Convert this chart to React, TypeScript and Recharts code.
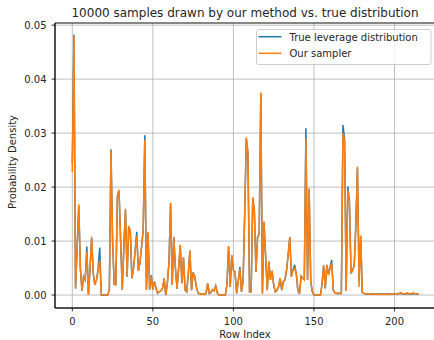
import React from 'react';
import { LineChart, Line, XAxis, YAxis, CartesianGrid, Legend, ReferenceArea } from 'recharts';

// probability per row (row index = array position)
const ourSampler = [
  0.0228, 0.0480, 0.0012, 0.0090, 0.0168, 0.0050, 0.0008, 0.0034, 0.0028, 0.0080,
  0.0000, 0.0050, 0.0108, 0.0040, 0.0019, 0.0028, 0.0045, 0.0065, 0.0000, 0.0000,
  0.0000, 0.0000, 0.0000, 0.0010, 0.0268, 0.0100, 0.0020, 0.0019, 0.0185, 0.0195,
  0.0100, 0.0010, 0.0090, 0.0160, 0.0034, 0.0128, 0.0119, 0.0031, 0.0050, 0.0080,
  0.0110, 0.0045, 0.0060, 0.0090, 0.0120, 0.0287, 0.0010, 0.0117, 0.0010, 0.0035,
  0.0010, 0.0025, 0.0012, 0.0003, 0.0006, 0.0008, 0.0012, 0.0031, 0.0000, 0.0022,
  0.0060, 0.0171, 0.0019, 0.0108, 0.0050, 0.0012, 0.0050, 0.0093, 0.0022, 0.0070,
  0.0009, 0.0006, 0.0040, 0.0083, 0.0009, 0.0042, 0.0034, 0.0015, 0.0004, 0.0002,
  0.0001, 0.0002, 0.0001, 0.0003, 0.0022, 0.0003, 0.0005, 0.0010, 0.0008, 0.0017,
  0.0004, 0.0000, 0.0000, 0.0000, 0.0000, 0.0000, 0.0020, 0.0091, 0.0015, 0.0074,
  0.0046, 0.0043, 0.0003, 0.0025, 0.0048, 0.0006, 0.0025, 0.0150, 0.0292, 0.0265,
  0.0006, 0.0006, 0.0181, 0.0157, 0.0043, 0.0108, 0.0114, 0.0375, 0.0003, 0.0136,
  0.0071, 0.0009, 0.0062, 0.0028, 0.0045, 0.0019, 0.0006, 0.0009, 0.0015, 0.0031,
  0.0009, 0.0025, 0.0028, 0.0046, 0.0075, 0.0108, 0.0034, 0.0046, 0.0050, 0.0040,
  0.0009, 0.0002, 0.0034, 0.0031, 0.0028, 0.0290, 0.0028, 0.0198, 0.0025, 0.0006,
  0.0000, 0.0000, 0.0000, 0.0000, 0.0000, 0.0020, 0.0055, 0.0012, 0.0056, 0.0037,
  0.0050, 0.0059, 0.0009, 0.0004, 0.0003, 0.0004, 0.0003, 0.0003, 0.0300, 0.0287,
  0.0008, 0.0194, 0.0172, 0.0040, 0.0046, 0.0055, 0.0130, 0.0238, 0.0015, 0.0110,
  0.0005, 0.0003, 0.0002, 0.0003, 0.0002, 0.0002, 0.0001, 0.0002, 0.0002, 0.0001,
  0.0002, 0.0001, 0.0002, 0.0001, 0.0002, 0.0001, 0.0001, 0.0002, 0.0001, 0.0002,
  0.0001, 0.0002, 0.0003, 0.0003, 0.0005, 0.0002, 0.0002, 0.0003, 0.0004, 0.0002,
  0.0003, 0.0003, 0.0004, 0.0002, 0.0003, 0.0002,
];

const trueLeverage = [
  0.0244, 0.0482, 0.0012, 0.0088, 0.0165, 0.0050, 0.0008, 0.0034, 0.0028, 0.0090,
  0.0000, 0.0050, 0.0105, 0.0040, 0.0019, 0.0028, 0.0048, 0.0088, 0.0000, 0.0000,
  0.0000, 0.0000, 0.0000, 0.0010, 0.0270, 0.0100, 0.0020, 0.0019, 0.0183, 0.0192,
  0.0100, 0.0010, 0.0090, 0.0158, 0.0034, 0.0126, 0.0118, 0.0031, 0.0050, 0.0082,
  0.0117, 0.0045, 0.0060, 0.0090, 0.0121, 0.0296, 0.0010, 0.0115, 0.0010, 0.0037,
  0.0010, 0.0025, 0.0012, 0.0003, 0.0006, 0.0008, 0.0012, 0.0031, 0.0000, 0.0022,
  0.0060, 0.0170, 0.0019, 0.0107, 0.0050, 0.0012, 0.0050, 0.0092, 0.0022, 0.0070,
  0.0009, 0.0006, 0.0040, 0.0082, 0.0009, 0.0042, 0.0034, 0.0015, 0.0004, 0.0002,
  0.0002, 0.0002, 0.0002, 0.0003, 0.0021, 0.0003, 0.0005, 0.0010, 0.0008, 0.0017,
  0.0004, 0.0000, 0.0000, 0.0000, 0.0000, 0.0000, 0.0020, 0.0090, 0.0015, 0.0073,
  0.0046, 0.0043, 0.0003, 0.0026, 0.0052, 0.0006, 0.0025, 0.0150, 0.0290, 0.0263,
  0.0006, 0.0006, 0.0180, 0.0156, 0.0043, 0.0107, 0.0113, 0.0373, 0.0003, 0.0135,
  0.0071, 0.0009, 0.0062, 0.0028, 0.0045, 0.0019, 0.0006, 0.0009, 0.0015, 0.0031,
  0.0009, 0.0025, 0.0028, 0.0046, 0.0075, 0.0107, 0.0034, 0.0047, 0.0056, 0.0040,
  0.0009, 0.0002, 0.0035, 0.0031, 0.0029, 0.0309, 0.0028, 0.0196, 0.0025, 0.0006,
  0.0000, 0.0000, 0.0000, 0.0000, 0.0000, 0.0020, 0.0055, 0.0012, 0.0056, 0.0038,
  0.0052, 0.0065, 0.0009, 0.0004, 0.0003, 0.0003, 0.0003, 0.0003, 0.0315, 0.0288,
  0.0008, 0.0201, 0.0174, 0.0040, 0.0046, 0.0055, 0.0130, 0.0236, 0.0025, 0.0110,
  0.0005, 0.0003, 0.0002, 0.0002, 0.0002, 0.0002, 0.0002, 0.0002, 0.0002, 0.0002,
  0.0002, 0.0002, 0.0002, 0.0002, 0.0002, 0.0002, 0.0002, 0.0002, 0.0002, 0.0002,
  0.0002, 0.0002, 0.0002, 0.0003, 0.0003, 0.0002, 0.0002, 0.0002, 0.0003, 0.0002,
  0.0002, 0.0002, 0.0003, 0.0002, 0.0002, 0.0002,
];

const xTicks = [0, 50, 100, 150, 200];
const yTicks = [0, 0.01, 0.02, 0.03, 0.04, 0.05];

const data = trueLeverage.map((v, i) => ({ row: i, truth: v, ours: ourSampler[i] }));

const BLUE = '#1f77b4';
const ORANGE = '#ff7f0e';
const FONT = 'DejaVu Sans, sans-serif';

const xMin = -10.75;
const xMax = 225.75;
const yMin = -0.0024;
const yMax = 0.0504;

const LegendBox = () => (
  <svg width={176} height={37} style={{ display: 'block' }}>
    <rect x={0.5} y={0.5} width={174.5} height={35} rx={2} fill="rgba(255,255,255,0.8)" stroke="#cccccc" />
    <line x1={2.5} y1={7.7} x2={25.5} y2={7.7} stroke={BLUE} strokeWidth={1.5} />
    <line x1={2.5} y1={24.3} x2={25.5} y2={24.3} stroke={ORANGE} strokeWidth={1.5} />
    <text x={33.5} y={11.8} fontSize={10} fontFamily={FONT} fill="#262626">True leverage distribution</text>
    <text x={33.5} y={28.2} fontSize={10} fontFamily={FONT} fill="#262626">Our sampler</text>
  </svg>
);

const App: React.FC = () => {
  return (
    <div style={{ position: 'absolute', left: 0, top: 0, width: 434, height: 340, overflow: 'hidden', background: '#fff' }}>
      <LineChart width={436} height={340} data={data} margin={{ top: 23, right: 0, left: 0, bottom: 0 }}>
        <CartesianGrid stroke="#b0b0b0" strokeWidth={0.8} />
        <XAxis
          dataKey="row"
          type="number"
          domain={[xMin, xMax]}
          ticks={xTicks}
          height={32}
          tickSize={3.5}
          tickMargin={6}
          axisLine={{ stroke: '#000', strokeWidth: 0.8 }}
          tickLine={{ stroke: '#000', strokeWidth: 0.8 }}
          tick={{ fill: '#262626', fontSize: 10, fontFamily: FONT }}
        />
        <YAxis
          type="number"
          domain={[yMin, yMax]}
          ticks={yTicks}
          width={55}
          tickSize={3.5}
          tickMargin={5}
          tickFormatter={(v: number) => v.toFixed(2)}
          axisLine={{ stroke: '#000', strokeWidth: 0.8 }}
          tickLine={{ stroke: '#000', strokeWidth: 0.8 }}
          tick={{ fill: '#262626', fontSize: 10, fontFamily: FONT }}
        />
        <Line type="linear" dataKey="truth" name="True leverage distribution" stroke={BLUE} strokeWidth={1.5} dot={false} activeDot={false} isAnimationActive={false} />
        <Line type="linear" dataKey="ours" name="Our sampler" stroke={ORANGE} strokeWidth={1.5} dot={false} activeDot={false} isAnimationActive={false} />
        <ReferenceArea x1={xMin} x2={xMax} y1={yMin} y2={yMax} fill="none" stroke="#000" strokeWidth={0.8} ifOverflow="visible" />
        <Legend
          layout="vertical"
          align="center"
          verticalAlign="middle"
          content={() => <LegendBox />}
          wrapperStyle={{ left: 255.5, top: 29, width: 176, height: 37 }}
        />
      </LineChart>
      <svg width={434} height={340} style={{ position: 'absolute', left: 0, top: 0, pointerEvents: 'none' }}>
        <text x={245} y={17} textAnchor="middle" fontSize={12} fontFamily={FONT} fill="#262626">
          10000 samples drawn by our method vs. true distribution
        </text>
        <text x={245} y={337.5} textAnchor="middle" fontSize={10} fontFamily={FONT} fill="#262626">
          Row Index
        </text>
        <text x={15.5} y={162} textAnchor="middle" fontSize={10} fontFamily={FONT} fill="#262626" transform="rotate(-90 15.5 162)">
          Probability Density
        </text>
      </svg>
    </div>
  );
};

export default App;
